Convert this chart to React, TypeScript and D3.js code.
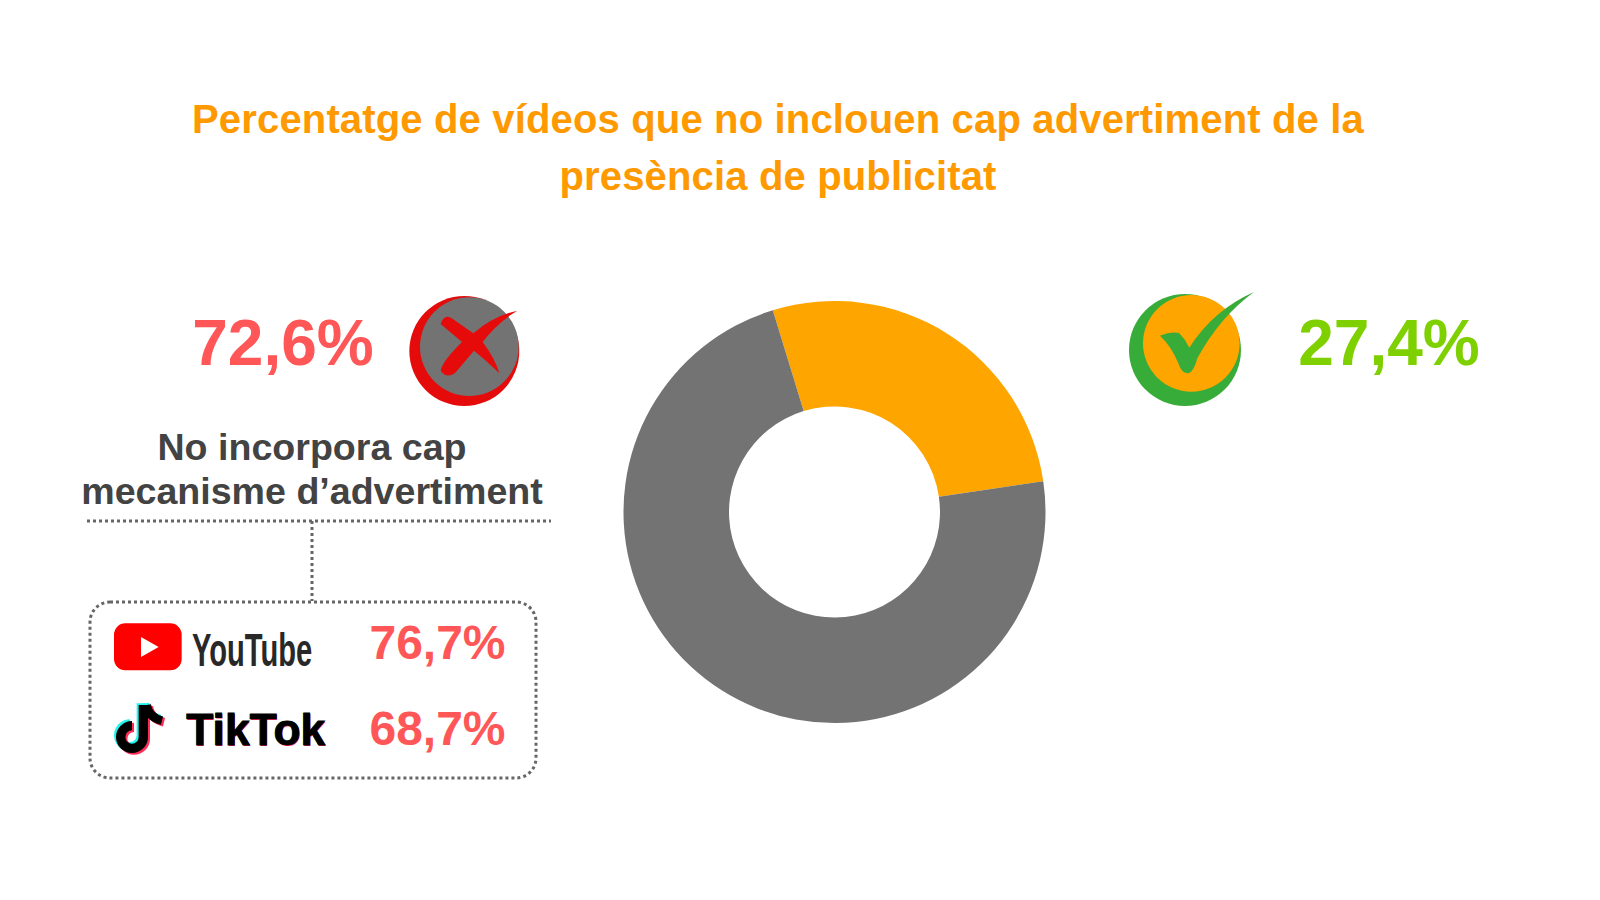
import React from "react";
import * as d3 from "d3";

const sliceLabels = ["Amb advertiment", "Sense advertiment"];
const sliceValues = [27.4, 72.6];
const sliceColors = ["#FFA500", "#737373"];
const titleLines = ["Percentatge de vídeos que no inclouen cap advertiment de la", "presència de publicitat"];
const subtitleLines = ["No incorpora cap", "mecanisme d’advertiment"];
const platformNames = ["YouTube", "TikTok"];
const platformValues = ["76,7%", "68,7%"];
const FONT = "'Liberation Sans', Arial, sans-serif";

const NOTE = "M190 345 L190 441 A34 34 0 1 1 156 407";
const HOOK = "M200 345 Q206 382 246 392";

export default function App() {
  const cx = 834.5, cy = 512;
  const start = (-17 * Math.PI) / 180;
  const pie = d3.pie<number>().sort(null).startAngle(start).endAngle(start + 2 * Math.PI);
  const arc = d3.arc<d3.PieArcDatum<number>>().innerRadius(105.5).outerRadius(211);
  const arcs = pie(sliceValues);
  return (
    <svg width={1600} height={900} style={{ position: "absolute", left: 0, top: 0, background: "#fff" }} fontFamily={FONT}>
      <g textAnchor="middle" fontWeight="bold" fontSize={40} fill="#FF9900" letterSpacing={0.16}>
        {titleLines.map((t, i) => (
          <text key={t} x={778} y={133 + i * 57}>{t}</text>
        ))}
      </g>
      <g transform={`translate(${cx},${cy})`}>
        {arcs.map((a, i) => (
          <path key={sliceLabels[i]} d={arc(a) || ""} fill={sliceColors[i]} />
        ))}
      </g>
      <text x={283} y={365} textAnchor="middle" fontWeight="bold" fontSize={64} fill="#FF5757">72,6%</text>
      <text x={1389} y={365} textAnchor="middle" fontWeight="bold" fontSize={64} fill="#7FD000">27,4%</text>

      <g transform="translate(380,280) scale(0.3333)">
        <circle cx={253} cy={213} r={165} fill="#E60B0B" />
        <circle cx={268} cy={200} r={148} fill="#737373" />
        <path d="M182 132 Q192 102 214 114 L280 160 Q340 108 412 92 Q352 128 308 186 Q345 235 358 280 Q320 242 282 212 L226 278 Q200 298 182 272 Q186 245 246 186 Z" fill="#E60B0B" />
      </g>
      <g transform="translate(1110,280) scale(0.3333)">
        <circle cx={225} cy={210} r={168} fill="#38AC38" />
        <circle cx={244} cy={190} r={145} fill="#FFA500" />
        <path d="M150 167 Q190 152 208 160 Q226 178 238 203 Q310 90 432 36 Q330 110 262 235 Q250 280 232 280 Q215 280 205 250 Q185 200 150 167 Z" fill="#38AC38" />
      </g>

      <g textAnchor="middle" fontWeight="bold" fontSize={37.6} fill="#434343">
        {subtitleLines.map((t, i) => (
          <text key={t} x={312} y={460 + i * 44}>{t}</text>
        ))}
      </g>
      <g stroke="#666" strokeWidth={3} strokeDasharray="3 3" fill="none">
        <line x1={87} x2={551} y1={521} y2={521} />
        <line x1={312} x2={312} y1={521} y2={601} />
        <rect x={90} y={602} width={446} height={176} rx={20} />
      </g>

      <g transform="translate(80,590) scale(0.3333)">
        <rect x={102} y={100} width={203} height={141} rx={34} fill="#FF0000" />
        <path d="M183 141 L236 171 L183 201 Z" fill="#fff" />
        {[["#25F4EE", -6, -5], ["#FE2C55", 6, 5], ["#000", 0, 0]].map(([c, dx, dy]) => (
          <g key={String(c)} transform={`translate(${dx},${dy})`} fill="none" stroke={String(c)} strokeWidth={28}>
            <path d={NOTE} />
            <path d={HOOK} strokeWidth={26} />
          </g>
        ))}
      </g>
      <text transform="translate(192,666) scale(0.62,1)" fontFamily="'Liberation Sans Narrow','Liberation Sans',sans-serif" fontWeight="bold" fontSize={47} fill="#282828">{platformNames[0]}</text>
      <g fontWeight="bold" fontFamily="'Liberation Sans',sans-serif" fontSize={45} stroke="none">
        <text x={185.5} y={744.5} fill="#25F4EE" textLength={139} lengthAdjust="spacingAndGlyphs">{platformNames[1]}</text>
        <text x={187} y={745.5} fill="#FE2C55" textLength={139} lengthAdjust="spacingAndGlyphs">{platformNames[1]}</text>
        <text x={186.3} y={745} fill="#000" stroke="#000" strokeWidth={0.8} textLength={139} lengthAdjust="spacingAndGlyphs">{platformNames[1]}</text>
      </g>
      <g textAnchor="middle" fontWeight="bold" fontSize={48} fill="#FF5757">
        {platformValues.map((t, i) => (
          <text key={i} x={437.5} y={659 + i * 86}>{t}</text>
        ))}
      </g>
    </svg>
  );
}
